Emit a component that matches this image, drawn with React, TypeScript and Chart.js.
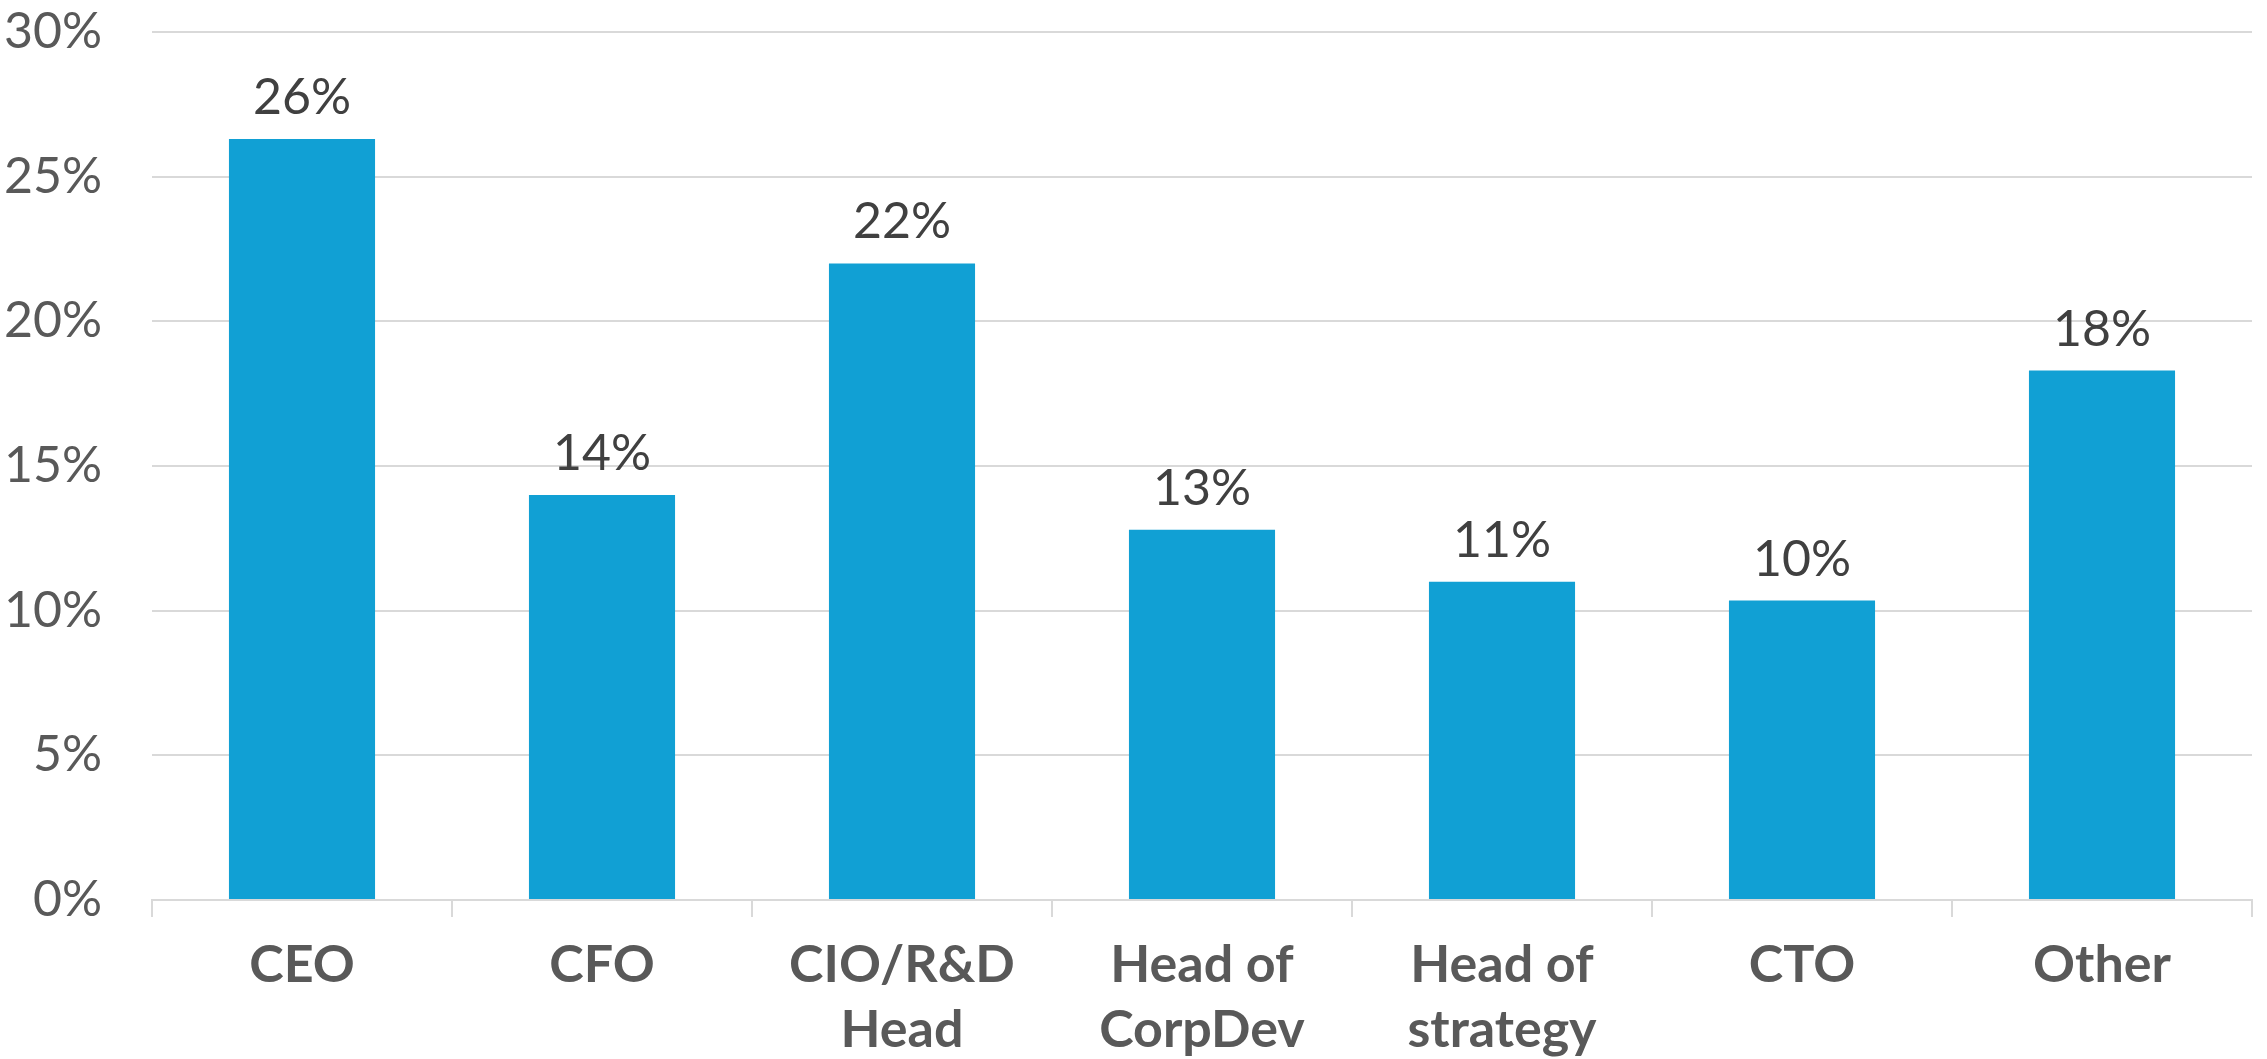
import React, { useEffect, useRef } from "react";
import { Chart, registerables } from "chart.js";

Chart.register(...registerables);

const categories: (string | string[])[] = [
  "CEO",
  "CFO",
  ["CIO/R&D", "Head"],
  ["Head of", "CorpDev"],
  ["Head of", "strategy"],
  "CTO",
  "Other",
];
const shareValues: number[] = [26.3, 14.0, 22.0, 12.8, 11.0, 10.35, 18.3];
const yTickValues: number[] = [0, 5, 10, 15, 20, 25, 30];

const BAR_COLOR = "#11A0D4";
const GRID_COLOR = "#D9D9D9";
const NUM_FONT = "Lato";
const NUM_SIZE = 50;

const valueLabelPlugin = {
  id: "valueLabels",
  afterDatasetsDraw(chart: any) {
    const ctx = chart.ctx;
    const meta = chart.getDatasetMeta(0);
    ctx.save();
    ctx.font = `${NUM_SIZE}px ${NUM_FONT}`;
    ctx.fillStyle = "#404040";
    ctx.textAlign = "center";
    ctx.textBaseline = "alphabetic";
    meta.data.forEach((bar: any, i: number) => {
      const v = shareValues[i];
      ctx.fillText(`${Math.round(v)}%`, bar.x, bar.y - 25);
    });
    ctx.restore();
  },
};

export default function App() {
  const canvasRef = useRef<HTMLCanvasElement | null>(null);

  useEffect(() => {
    if (!canvasRef.current) return;
    const chart = new Chart(canvasRef.current, {
      type: "bar",
      data: {
        labels: categories,
        datasets: [
          {
            data: shareValues,
            backgroundColor: BAR_COLOR,
            borderWidth: 0,
            barPercentage: 0.487,
            categoryPercentage: 1,
          },
        ],
      },
      options: {
        animation: false,
        responsive: false,
        maintainAspectRatio: false,
        layout: { padding: { top: 0, right: 15, left: 0, bottom: 0 } },
        plugins: {
          legend: { display: false },
          tooltip: { enabled: false },
        },
        scales: {
          x: {
            grid: {
              offset: true,
              drawOnChartArea: false,
              drawTicks: true,
              tickLength: 17,
              color: GRID_COLOR,
              lineWidth: 2,
            },
            border: { display: true, color: GRID_COLOR, width: 2 },
            ticks: {
              color: "#595959",
              padding: 16,
              maxRotation: 0,
              autoSkip: false,
              font: { family: "Lato", weight: "bold", size: 52, lineHeight: 1.25 },
            },
            afterFit(scale: any) {
              scale.height = 159;
            },
          },
          y: {
            min: 0,
            max: 30,
            afterBuildTicks(scale: any) {
              scale.ticks = yTickValues.map((v) => ({ value: v }));
            },
            grid: {
              drawTicks: false,
              color: GRID_COLOR,
              lineWidth: 2,
            },
            border: { display: false },
            ticks: {
              color: "#595959",
              padding: 50,
              font: { family: NUM_FONT, size: NUM_SIZE, lineHeight: 1.28 },
              callback: (v: any) => `${v}%`,
            },
            afterFit(scale: any) {
              scale.width = 152;
              scale.paddingTop = 32;
              scale.paddingBottom = 0;
            },
          },
        },
      },
      plugins: [valueLabelPlugin],
    });
    return () => chart.destroy();
  }, []);

  return (
    <div style={{ position: "fixed", left: 0, top: 0, width: 2267, height: 1059, background: "#fff" }}>
      <canvas ref={canvasRef} width={2267} height={1059} style={{ width: 2267, height: 1059, display: "block" }} />
    </div>
  );
}
